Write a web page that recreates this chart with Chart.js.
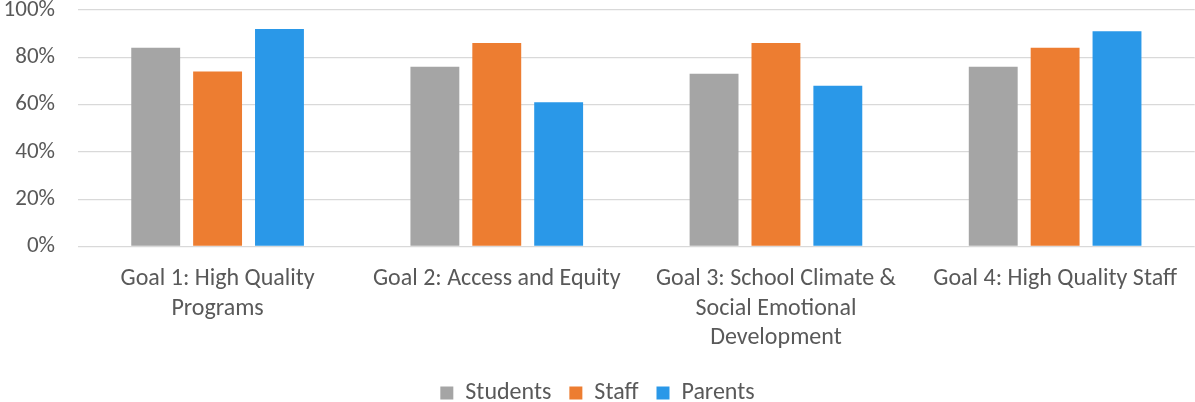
<!DOCTYPE html>
<html>
<head>
<meta charset="utf-8">
<script src="https://cdn.jsdelivr.net/npm/chart.js@4.4.1/dist/chart.umd.min.js"></script>
<style>
html,body{margin:0;padding:0;background:#fff;}
#wrap{width:1195px;height:402px;position:relative;}
</style>
</head>
<body>
<div id="wrap"><canvas id="c"></canvas></div>
<script>
const categories = [
  ["Goal 1: High Quality", "Programs"],
  ["Goal 2: Access and Equity"],
  ["Goal 3: School Climate &", "Social Emotional", "Development"],
  ["Goal 4: High Quality Staff"]
];
const students = [84, 76, 73, 76];
const staff = [74, 86, 86, 84];
const parents = [92, 61, 68, 91];
const yTicks = [0, 20, 40, 60, 80, 100];

const FONT = "Carlito, Calibri, 'Liberation Sans', Arial, sans-serif";
const TXT = '#595959';

new Chart(document.getElementById('c'), {
  type: 'bar',
  data: {
    labels: categories,
    datasets: [
      { label: 'Students', data: students, backgroundColor: '#A5A5A5' },
      { label: 'Staff', data: staff, backgroundColor: '#ED7D31' },
      { label: 'Parents', data: parents, backgroundColor: '#2A98E8' }
    ]
  },
  options: {
    responsive: true,
    maintainAspectRatio: false,
    animation: false,
    layout: { padding: { top: 0, right: 0, bottom: -13, left: 0 } },
    datasets: { bar: { categoryPercentage: 0.665, barPercentage: 0.79 } },
    scales: {
      x: {
        grid: { display: false, drawTicks: false },
        border: { display: false },
        afterFit: (axis) => { axis.height = 116.5; },
        ticks: { color: TXT, font: { family: FONT, size: 24, lineHeight: 1.23 }, padding: 18, maxRotation: 0, autoSkip: false }
      },
      y: {
        min: 0, max: 100,
        afterBuildTicks: (axis) => { axis.ticks = yTicks.map(v => ({ value: v })); },
        afterFit: (axis) => { axis.width = 78; axis.paddingTop = 10; axis.paddingBottom = 0; },
        grid: { color: '#D9D9D9', lineWidth: 1.3, drawTicks: false },
        border: { display: false },
        ticks: { color: TXT, font: { family: FONT, size: 23 }, padding: 23, callback: v => v + '%' }
      }
    },
    plugins: {
      legend: {
        position: 'bottom',
        labels: { color: TXT, font: { family: FONT, size: 24 }, boxWidth: 13, boxHeight: 13, padding: 18 }
      },
      tooltip: { enabled: false }
    }
  }
});
</script>
</body>
</html>
